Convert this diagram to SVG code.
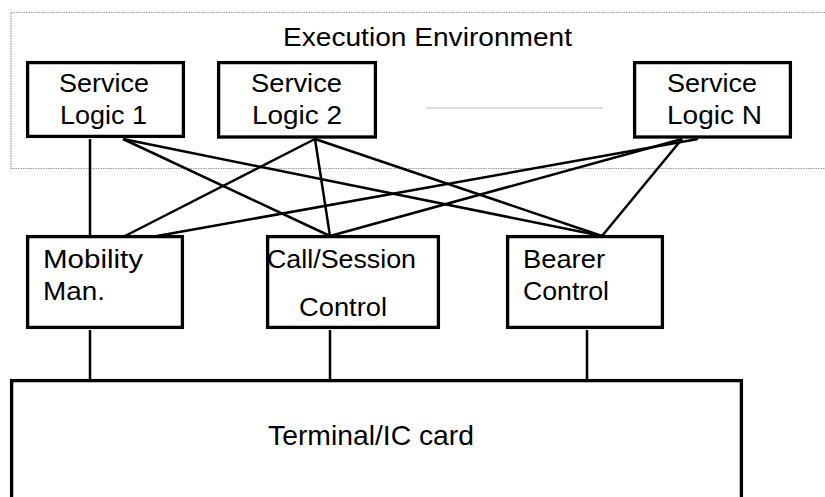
<svg xmlns="http://www.w3.org/2000/svg" width="825" height="497" viewBox="0 0 825 497">
<style>
.box{fill:#fff;stroke:#000;stroke-width:3.3}
.t{font-family:"Liberation Sans",Arial,sans-serif;font-size:26px;fill:#000}
.c{stroke:#000;stroke-width:2.5;fill:none;stroke-linecap:butt}
</style>
<rect width="825" height="497" fill="#fff"/>
<g id="env">
<rect x="11" y="12.5" width="830" height="156" fill="none" stroke="#999" stroke-width="1.2" stroke-dasharray="1.5 1"/>
<text class="t" x="283" y="46" textLength="289" lengthAdjust="spacingAndGlyphs">Execution Environment</text>
<line x1="426" y1="108" x2="603" y2="108" stroke="#bbb" stroke-width="1.2"/>
</g>
<g id="connectors">
<line class="c" x1="90" y1="139" x2="90" y2="236"/>
<line class="c" x1="123" y1="139" x2="330" y2="236"/>
<line class="c" x1="123" y1="139" x2="602" y2="236"/>
<line class="c" x1="315" y1="139" x2="125" y2="236"/>
<line class="c" x1="315" y1="139" x2="330" y2="236"/>
<line class="c" x1="315" y1="139" x2="602" y2="236"/>
<line class="c" x1="698" y1="139" x2="157" y2="236"/>
<line class="c" x1="682" y1="139" x2="330" y2="236"/>
<line class="c" x1="682" y1="139" x2="602" y2="236"/>
<line class="c" x1="90" y1="330" x2="90" y2="380"/>
<line class="c" x1="330" y1="330" x2="330" y2="380"/>
<line class="c" x1="587" y1="330" x2="587" y2="380"/>
</g>
<g id="sl1">
<rect class="box" x="27.6" y="62.6" width="155.8" height="73.8"/>
<text class="t" x="59" y="92" textLength="90" lengthAdjust="spacingAndGlyphs">Service</text>
<text class="t" x="60" y="124" textLength="87" lengthAdjust="spacingAndGlyphs">Logic 1</text>
</g>
<g id="sl2">
<rect class="box" x="218.6" y="62.6" width="156.8" height="74.4"/>
<text class="t" x="251" y="92" textLength="91" lengthAdjust="spacingAndGlyphs">Service</text>
<text class="t" x="252" y="124" textLength="90" lengthAdjust="spacingAndGlyphs">Logic 2</text>
</g>
<g id="sln">
<rect class="box" x="634.6" y="62.6" width="155.8" height="74.4"/>
<text class="t" x="667" y="92" textLength="90" lengthAdjust="spacingAndGlyphs">Service</text>
<text class="t" x="667" y="124" textLength="95" lengthAdjust="spacingAndGlyphs">Logic N</text>
</g>
<g id="mobility">
<rect class="box" x="27.6" y="236.6" width="154.8" height="90.8"/>
<text class="t" x="43" y="268" textLength="100" lengthAdjust="spacingAndGlyphs">Mobility</text>
<text class="t" x="43" y="300" textLength="62" lengthAdjust="spacingAndGlyphs">Man.</text>
</g>
<g id="callsession">
<rect class="box" x="267.6" y="236.6" width="170.8" height="90.8"/>
<text class="t" x="267" y="268" textLength="149" lengthAdjust="spacingAndGlyphs">Call/Session</text>
<text class="t" x="299" y="316" textLength="88" lengthAdjust="spacingAndGlyphs">Control</text>
</g>
<g id="bearer">
<rect class="box" x="507.6" y="236.6" width="154.8" height="90.8"/>
<text class="t" x="523" y="268" textLength="82" lengthAdjust="spacingAndGlyphs">Bearer</text>
<text class="t" x="523" y="300" textLength="86" lengthAdjust="spacingAndGlyphs">Control</text>
</g>
<g id="terminal">
<rect class="box" x="11.6" y="380.6" width="729.8" height="130"/>
<text class="t" x="268" y="445" font-size="28" textLength="206" lengthAdjust="spacingAndGlyphs" style="font-size:28px">Terminal/IC card</text>
</g>
</svg>
